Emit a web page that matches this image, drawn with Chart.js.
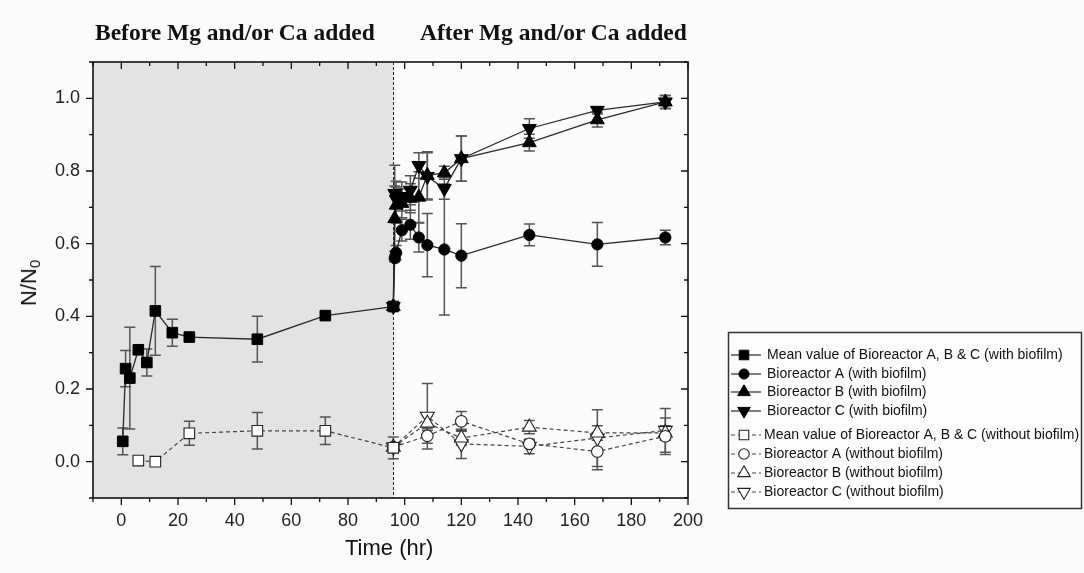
<!DOCTYPE html>
<html><head><meta charset="utf-8">
<script src="https://cdn.jsdelivr.net/npm/chart.js@4.4.1/dist/chart.umd.min.js"></script>
<style>
html,body{margin:0;padding:0;background:#fbfbfb;}
#wrap{position:relative;width:1084px;height:573px;overflow:hidden;}
canvas{position:absolute;left:0;top:0;}
.head{position:absolute;font-family:"Liberation Serif","Times New Roman",serif;font-weight:bold;font-size:23.5px;color:#111;white-space:nowrap;line-height:1;}
.axt{position:absolute;font-family:"Liberation Sans",Arial,sans-serif;font-size:22px;color:#111;white-space:nowrap;line-height:1;}
.ylab{transform:translate(-50%,-50%) rotate(-90deg);}
.ylab sub{font-size:15px;vertical-align:-4px;}
</style></head>
<body>
<div id="wrap">
<canvas id="c" width="1084" height="573"></canvas>
<div class="head" style="left:95px;top:21px;">Before Mg and/or Ca added</div>
<div class="head" style="left:420px;top:21px;">After Mg and/or Ca added</div>
<div class="axt" style="left:345px;top:537px;">Time (hr)</div>
<div class="axt ylab" style="left:30px;top:283px;">N/N<sub>0</sub></div>
</div>
<script>
// ---- data ----
const timeMeanWith = [0.5, 1.5, 3, 6, 9, 12, 18, 24, 48, 72, 96];
const meanWith     = [0.056, 0.256, 0.230, 0.308, 0.273, 0.415, 0.355, 0.343, 0.337, 0.402, 0.427];
const meanWithErr  = [0.037, 0.050, 0.140, 0, 0.037, 0.122, 0.037, 0, 0.063, 0, 0.010];

const timeMeanWithout = [6, 12, 24, 48, 72, 96];
const meanWithout     = [0.003, 0.000, 0.078, 0.085, 0.085, 0.038];
const meanWithoutErr  = [0, 0.005, 0.033, 0.050, 0.038, 0.030];

const timeWith   = [96, 96.5, 97, 99, 102, 105, 108, 114, 120, 144, 168, 192];
const aWith      = [0.427, 0.560, 0.575, 0.637, 0.652, 0.617, 0.596, 0.584, 0.567, 0.624, 0.598, 0.617];
const aWithErr   = [0, 0.010, 0.020, 0.030, 0.040, 0.040, 0.087, 0.180, 0.088, 0.030, 0.060, 0.020];
const bWith      = [0.427, 0.669, 0.706, 0.711, 0.725, 0.728, 0.788, 0.795, 0.834, 0.878, 0.941, 0.990];
const bWithErr   = [0, 0.090, 0.050, 0.040, 0.040, 0.070, 0.065, 0.018, 0.062, 0.023, 0.020, 0.018];
const cWith      = [0.427, 0.738, 0.722, 0.730, 0.747, 0.815, 0.785, 0.752, 0.834, 0.917, 0.967, 0.990];
const cWithErr   = [0, 0.078, 0.050, 0.040, 0.040, 0.035, 0.065, 0.030, 0.062, 0.027, 0.010, 0.018];

const timeWithout = [96, 108, 120, 144, 168, 192];
const aWithout    = [0.040, 0.071, 0.111, 0.049, 0.028, 0.070];
const aWithoutErr = [0, 0.020, 0.027, 0.010, 0.050, 0.050];
const bWithout    = [0.040, 0.106, 0.065, 0.095, 0.079, 0.079];
const bWithoutErr = [0, 0.020, 0.020, 0.018, 0.020, 0.020];
const cWithout    = [0.040, 0.125, 0.049, 0.042, 0.065, 0.086];
const cWithoutErr = [0, 0.090, 0.040, 0.020, 0.078, 0.060];

const seriesLabels = [
  "Mean value of Bioreactor A, B & C (with biofilm)",
  "Bioreactor A (with biofilm)",
  "Bioreactor B (with biofilm)",
  "Bioreactor C (with biofilm)",
  "Mean value of Bioreactor A, B & C (without biofilm)",
  "Bioreactor A (without biofilm)",
  "Bioreactor B (without biofilm)",
  "Bioreactor C (without biofilm)"
];
const xTickLabels = [0, 20, 40, 60, 80, 100, 120, 140, 160, 180, 200];
const yTickLabels = ["0.0", "0.2", "0.4", "0.6", "0.8", "1.0"];
const additionTime = 96;

// ---- build datasets ----
const pts = (xs, ys) => xs.map((x, i) => ({x: x, y: ys[i]}));
function solid(label, xs, ys, errs, style, r, rot) {
  return {label, data: pts(xs, ys), errors: errs, showLine: true,
    borderColor: '#2a2a2a', borderWidth: 1.3, pointStyle: style, pointRadius: r, pointRotation: rot || 0,
    pointBackgroundColor: '#000', pointBorderColor: '#000', pointBorderWidth: 1, open: false};
}
function dashed(label, xs, ys, errs, style, r, rot) {
  return {label, data: pts(xs, ys), errors: errs, showLine: true, borderDash: [4, 3],
    borderColor: '#444', borderWidth: 1.2, pointStyle: style, pointRadius: r, pointRotation: rot || 0,
    pointBackgroundColor: '#fff', pointBorderColor: '#222', pointBorderWidth: 1.1, open: true};
}
const datasets = [
  solid(seriesLabels[0], timeMeanWith, meanWith, meanWithErr, 'rect', 7.5),
  solid(seriesLabels[1], timeWith, aWith, aWithErr, 'circle', 5.6),
  solid(seriesLabels[2], timeWith, bWith, bWithErr, 'triangle', 8),
  solid(seriesLabels[3], timeWith, cWith, cWithErr, 'triangle', 8, 180),
  dashed(seriesLabels[4], timeMeanWithout, meanWithout, meanWithoutErr, 'rect', 7.5),
  dashed(seriesLabels[5], timeWithout, aWithout, aWithoutErr, 'circle', 5.8),
  dashed(seriesLabels[6], timeWithout, bWithout, bWithoutErr, 'triangle', 8),
  dashed(seriesLabels[7], timeWithout, cWithout, cWithoutErr, 'triangle', 8, 180)
];

// ---- plugins ----
const shading = {
  id: 'shading',
  beforeDatasetsDraw(chart) {
    const {ctx, chartArea: a, scales: {x}} = chart;
    const xr = x.getPixelForValue(additionTime);
    ctx.save();
    ctx.fillStyle = '#e3e3e3';
    ctx.fillRect(a.left, a.top, xr - a.left, a.bottom - a.top);
    ctx.strokeStyle = '#222'; ctx.lineWidth = 1; ctx.setLineDash([3, 2]);
    ctx.beginPath(); ctx.moveTo(Math.round(xr) + 0.5, a.top); ctx.lineTo(Math.round(xr) + 0.5, a.bottom); ctx.stroke();
    ctx.restore();
  }
};
const errorBars = {
  id: 'errorBars',
  beforeDatasetsDraw(chart) {
    const ctx = chart.ctx, ys = chart.scales.y;
    chart.data.datasets.forEach((ds, i) => {
      if (!ds.errors) return;
      const meta = chart.getDatasetMeta(i);
      ctx.save(); ctx.strokeStyle = '#555'; ctx.lineWidth = 1.5;
      meta.data.forEach((el, j) => {
        const e = ds.errors[j]; if (!e) return;
        const v = ds.data[j].y, px = el.x;
        const yt = ys.getPixelForValue(v + e), yb = ys.getPixelForValue(v - e);
        ctx.beginPath();
        ctx.moveTo(px, yt); ctx.lineTo(px, yb);
        ctx.moveTo(px - 5.5, yt); ctx.lineTo(px + 5.5, yt);
        ctx.moveTo(px - 5.5, yb); ctx.lineTo(px + 5.5, yb);
        ctx.stroke();
      });
      ctx.restore();
    });
  }
};
const frame = {
  id: 'frame',
  afterDraw(chart) {
    const {ctx, chartArea: a, scales: {x, y}} = chart;
    ctx.save();
    ctx.strokeStyle = '#111'; ctx.lineWidth = 1.6;
    ctx.strokeRect(a.left, a.top, a.right - a.left, a.bottom - a.top);
    ctx.lineWidth = 1.3;
    ctx.beginPath();
    for (let t = -10; t <= 200; t += 10) {
      const px = x.getPixelForValue(t), L = (t % 20 === 0) ? 7 : 4;
      ctx.moveTo(px, a.bottom); ctx.lineTo(px, a.bottom + L);
      ctx.moveTo(px, a.top); ctx.lineTo(px, a.top + L);
    }
    for (let k = -1; k <= 11; k++) {
      const py = y.getPixelForValue(k / 10), L = (k % 2 === 0) ? 7 : 4;
      ctx.moveTo(a.left, py); ctx.lineTo(a.left - L, py);
      ctx.moveTo(a.right, py); ctx.lineTo(a.right - L, py);
    }
    ctx.stroke();
    ctx.restore();
  }
};
function marker(ctx, style, rot, r, x, y, fill, stroke, lw) {
  ctx.save(); ctx.fillStyle = fill; ctx.strokeStyle = stroke; ctx.lineWidth = lw; ctx.setLineDash([]);
  ctx.beginPath();
  if (style === 'rect') { const s = r * Math.SQRT1_2; ctx.rect(x - s, y - s, 2 * s, 2 * s); }
  else if (style === 'circle') { ctx.arc(x, y, r, 0, Math.PI * 2); }
  else {
    let a = (rot || 0) * Math.PI / 180;
    for (let k = 0; k < 3; k++) {
      const px = x + Math.sin(a) * r, py = y - Math.cos(a) * r;
      k ? ctx.lineTo(px, py) : ctx.moveTo(px, py); a += 2 * Math.PI / 3;
    }
    ctx.closePath();
  }
  ctx.fill(); ctx.stroke(); ctx.restore();
}
const legendBox = {
  id: 'legendBox',
  afterDraw(chart) {
    const ctx = chart.ctx;
    const rowY = [355, 374, 392, 411, 435, 454, 473, 492];
    ctx.save();
    ctx.fillStyle = '#fdfdfd'; ctx.fillRect(728, 332, 354, 177);
    ctx.strokeStyle = '#333'; ctx.lineWidth = 1.5;
    ctx.strokeRect(728.5, 332.5, 353, 176);
    ctx.font = '14px "Liberation Sans", Arial, sans-serif';
    ctx.textBaseline = 'middle';
    chart.data.datasets.forEach((ds, i) => {
      const yy = rowY[i];
      ctx.strokeStyle = ds.borderColor; ctx.lineWidth = 1.2;
      ctx.setLineDash(ds.borderDash || []);
      ctx.beginPath(); ctx.moveTo(731, yy); ctx.lineTo(761, yy); ctx.stroke();
      marker(ctx, ds.pointStyle, ds.pointRotation, ds.pointRadius * 0.9, 744, yy, ds.pointBackgroundColor, ds.pointBorderColor, ds.pointBorderWidth);
      ctx.fillStyle = '#111';
      ctx.fillText(ds.label, ds.open ? 764 : 767, yy);
    });
    ctx.restore();
  }
};

new Chart(document.getElementById('c'), {
  type: 'scatter',
  data: {datasets},
  plugins: [shading, errorBars, frame, legendBox],
  options: {
    responsive: false, animation: false, devicePixelRatio: 1,
    layout: {padding: {left: 0, top: 62, right: 396, bottom: 0}},
    plugins: {legend: {display: false}, tooltip: {enabled: false}},
    scales: {
      x: {type: 'linear', min: -10, max: 200,
        grid: {display: false, drawTicks: false}, border: {display: false},
        ticks: {stepSize: 10, autoSkip: false, maxRotation: 0, padding: 12, color: '#222',
          font: {family: '"Liberation Sans", Arial, sans-serif', size: 18},
          callback: v => xTickLabels.includes(v) ? String(v) : ''},
        afterFit: s => { s.height = 75; s.paddingLeft = 0; s.paddingRight = 0; }
      },
      y: {type: 'linear', min: -0.1, max: 1.1,
        grid: {display: false, drawTicks: false}, border: {display: false},
        ticks: {stepSize: 0.1, autoSkip: false, padding: 13, color: '#222',
          font: {family: '"Liberation Sans", Arial, sans-serif', size: 18},
          callback: v => { const k = Math.round(v * 10); return (k >= 0 && k <= 10 && k % 2 === 0) ? yTickLabels[k / 2] : ''; }},
        afterFit: s => { s.width = 93; s.paddingTop = 0; s.paddingBottom = 0; }
      }
    }
  }
});
</script>
</body></html>
